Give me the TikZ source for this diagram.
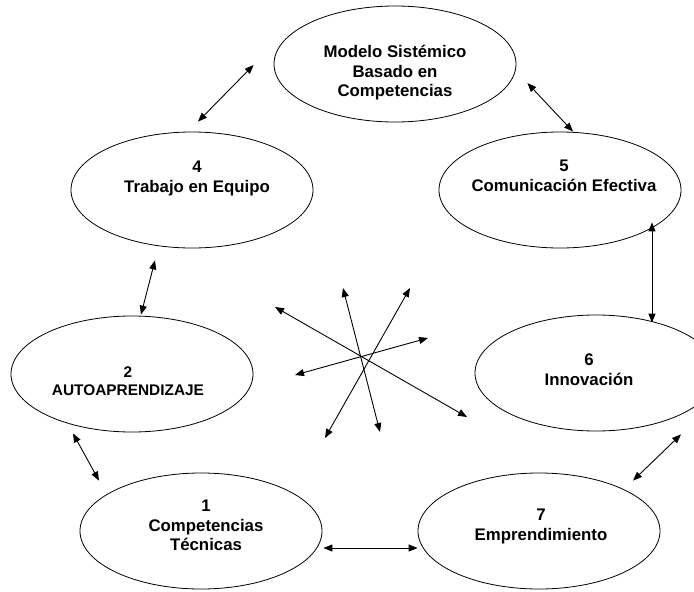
\documentclass[tikz,border=0pt]{standalone}
\usepackage{fontspec}
\setmainfont{Liberation Sans}
\usetikzlibrary{shapes.geometric,arrows.meta}
\begin{document}
\begin{tikzpicture}[x=1pt,y=-1pt,
    elli/.style={draw,ellipse,line width=0.8pt,minimum width=242pt,minimum height=116pt,inner sep=0pt},
    lbl/.style={anchor=north,align=center,inner sep=0pt,font=\fontsize{16.8}{19.5}\selectfont\bfseries},
    dbl/.style={{Triangle[length=9pt,width=7pt]}-{Triangle[length=9pt,width=7pt]},line width=0.9pt}]
    \useasboundingbox (0,0) rectangle (694,592);
    \clip (0,0) rectangle (694,592);
    \node[elli] (top) at (395,64) {};
    \node[elli] (m4) at (192,190) {};
    \node[elli] (m5) at (560,190) {};
    \node[elli] (m2) at (132,374) {};
    \node[elli] (m6) at (596,373) {};
    \node[elli] (m1) at (201,531) {};
    \node[elli] (m7) at (539,531) {};
    \node[lbl] (ttop) at ([shift={(0,-19)}]top.center) {Modelo Sistémico\\Basado en\\Competencias};
    \node[lbl] (t4) at ([shift={(5,-29)}]m4.center) {4\\Trabajo en Equipo};
    \node[lbl] (t5) at ([shift={(4,-30)}]m5.center) {5\\Comunicación Efectiva};
    \node[lbl,font=\fontsize{15.4}{17.5}\selectfont\bfseries] (t2) at ([shift={(-4,-7)}]m2.center) {2\\AUTOAPRENDIZAJE};
    \node[lbl] (t6) at ([shift={(-7,-19)}]m6.center) {6\\Innovación};
    \node[lbl] (t1) at ([shift={(5,-31)}]m1.center) {1\\Competencias\\Técnicas};
    \node[lbl] (t7) at ([shift={(2,-22)}]m7.center) {7\\Emprendimiento};
    \draw[dbl] ([shift={(-20,1)}]top.west) -- ([shift={(6,-10)}]m4.north);
    \draw[dbl] ([shift={(11,19)}]top.east) -- ([shift={(13,0)}]m5.north);
    \draw[dbl] ([shift={(92,-26)}]m5.south) -- ([shift={(56,8)}]m6.north);
    \draw[dbl] ([shift={(-37,12)}]m4.south) -- ([shift={(9,-1)}]m2.north);
    \draw[dbl] ([shift={(-59,1)}]m2.south) -- ([shift={(-102,8)}]m1.north);
    \draw[dbl] ([shift={(85,3)}]m6.south) -- ([shift={(94,8)}]m7.north);
    \draw[dbl] ([shift={(1,17)}]m1.east) -- ([shift={(0,17)}]m7.west);
    \coordinate (hub) at (362,357);
    \draw[dbl] ([shift={(-87,-50)}]hub) -- ([shift={(105,60)}]hub);
    \draw[dbl] ([shift={(-19,-69)}]hub) -- ([shift={(18,75)}]hub);
    \draw[dbl] ([shift={(48,-69)}]hub) -- ([shift={(-37,81)}]hub);
    \draw[dbl] ([shift={(66,-19)}]hub) -- ([shift={(-67,18)}]hub);
\end{tikzpicture}
\end{document}
